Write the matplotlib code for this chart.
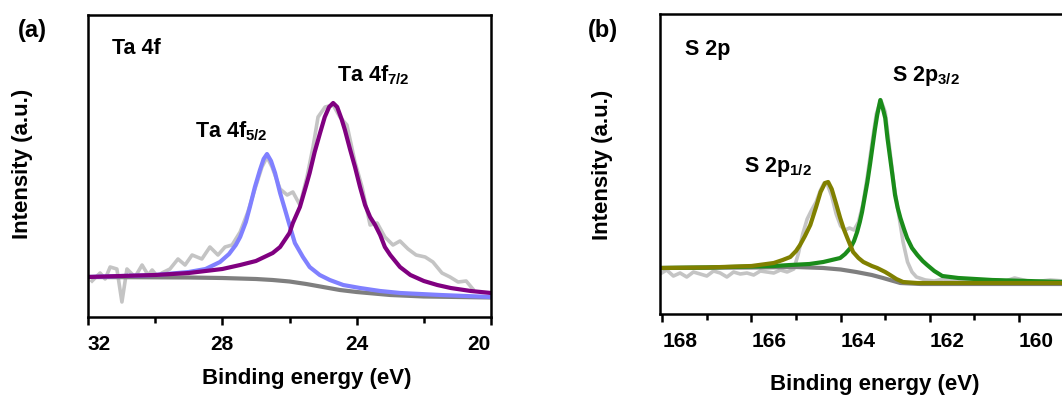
import matplotlib
matplotlib.use('Agg')
import matplotlib.pyplot as plt

plt.rcParams['font.family'] = ['Liberation Sans', 'DejaVu Sans']
plt.rcParams['font.weight'] = 'bold'
plt.rcParams['mathtext.fontset'] = 'custom'
plt.rcParams['mathtext.rm'] = 'Liberation Sans:bold'
plt.rcParams['mathtext.bf'] = 'Liberation Sans:bold'

# ---- (a) Ta 4f ----
ta_raw_e = [31.88, 31.64, 31.49, 31.34, 31.14, 30.99, 30.84, 30.60, 30.39, 30.21,
            30.09, 29.92, 29.80, 29.56, 29.32, 29.11, 28.90, 28.61, 28.37, 28.13,
            27.92, 27.71, 27.47, 27.24, 27.03, 26.82, 26.67, 26.52, 26.28, 26.07,
            25.90, 25.69, 25.48, 25.30, 25.15, 24.94, 24.70, 24.50, 24.29, 24.05,
            23.84, 23.60, 23.39, 23.16, 22.92, 22.71, 22.47, 22.23, 21.96, 21.73,
            21.46, 21.22, 20.98, 20.74, 20.54]
ta_raw_i = [36, 44, 38, 50, 48, 15, 48, 40, 52, 42,
            47, 40, 44, 48, 58, 52, 62, 58, 70, 62,
            70, 72, 85, 105, 128, 150, 160, 150, 128, 122,
            125, 112, 140, 170, 200, 210, 212, 200, 192, 155,
            130, 92, 94, 80, 72, 76, 68, 62, 60, 55,
            44, 40, 35, 36, 28]

ta72_e = [32.0, 30.0, 29.0, 28.0, 27.47, 27.0, 26.5, 26.28, 26.0, 25.9, 25.69,
          25.5, 25.4, 25.25, 25.09, 24.95, 24.82, 24.70, 24.58, 24.45, 24.35,
          24.2, 24.05, 23.9, 23.75, 23.6, 23.45, 23.3, 23.16, 23.0, 22.71,
          22.4, 22.0, 21.6, 21.2, 20.6, 20.0]
ta72_i = [40, 42, 44, 48, 52, 56, 64, 70, 84, 94, 110,
          132, 144, 165, 184, 200, 210, 214, 210, 198, 187,
          168, 150, 130, 112, 100, 92, 82, 70, 62, 50,
          42, 36, 32, 29, 26, 24]

ta52_e = [32.0, 30.0, 29.0, 28.5, 28.07, 27.8, 27.6, 27.47, 27.3, 27.18, 27.03,
          26.88, 26.77, 26.67, 26.55, 26.43, 26.28, 26.13, 26.0, 25.84, 25.6,
          25.4, 25.1, 24.8, 24.4, 23.9, 23.3, 22.7, 21.5, 20.0]
ta52_i = [40, 42, 45, 48, 55, 63, 72, 80, 95, 110, 130,
          147, 158, 163, 156, 144, 124, 107, 92, 74, 60,
          50, 42, 37, 32, 29, 26, 24, 22, 20]

ta_bg_e = [32.0, 29.0, 28.0, 27.0, 26.5, 26.0, 25.5, 25.0, 24.5, 24.0, 23.5,
           23.0, 22.0, 21.0, 20.0]
ta_bg_i = [40, 39.5, 39, 38, 37, 35.5, 33, 30, 27, 25, 23.5,
           22, 20.5, 20, 19.5]

# ---- (b) S 2p ----
s_raw_e = [168.05, 167.9, 167.75, 167.6, 167.45, 167.3, 167.15, 167.0, 166.85, 166.7,
           166.55, 166.4, 166.25, 166.1, 165.95, 165.8, 165.65, 165.5, 165.35, 165.2,
           165.05, 164.95, 164.85, 164.75, 164.65, 164.55, 164.45, 164.37, 164.3, 164.2,
           164.1, 164.0, 163.9, 163.8, 163.7, 163.6, 163.5, 163.4, 163.3, 163.2,
           163.1, 163.0, 162.9, 162.8, 162.7, 162.6, 162.5, 162.4, 162.3, 162.1,
           161.9, 161.7, 161.5, 161.3, 161.1, 160.9, 160.7, 160.5, 160.3, 160.1,
           159.9, 159.7, 159.5, 159.3, 159.0]
s_raw_i = [40, 44, 38, 41, 37, 42, 40, 38, 43, 41,
           37, 42, 40, 41, 39, 43, 42, 41, 44, 42,
           45, 60, 80, 95, 104, 112, 124, 131, 130, 118,
           100, 88, 84, 86, 84, 92, 110, 138, 170, 200,
           214, 202, 165, 128, 100, 72, 52, 42, 37, 34,
           33, 35, 33, 34, 32, 33, 32, 34, 33, 36,
           34, 32, 33, 34, 33]

s32_e = [168.05, 167.0, 166.0, 165.5, 165.13, 164.7, 164.39, 164.2, 164.01, 163.9,
         163.78, 163.7, 163.63, 163.57, 163.52, 163.46, 163.4, 163.34, 163.29, 163.23,
         163.18, 163.11, 163.05, 163.0, 162.95, 162.89, 162.83, 162.78, 162.72, 162.66,
         162.58, 162.51, 162.4, 162.28, 162.16, 162.06, 161.9, 161.72, 161.36, 160.6,
         159.0]
s32_i = [46, 46.5, 47.5, 48, 49, 50, 52, 54, 56, 60,
         66, 73, 82, 92, 102, 117, 132, 150, 166, 185,
         199, 214, 205, 196, 176, 156, 136, 119, 106, 96,
         85, 76, 66, 59, 53, 49, 43, 38, 36, 34,
         32]

s12_e = [168.05, 167.0, 166.0, 165.5, 165.3, 165.13, 165.0, 164.91, 164.8, 164.68,
         164.55, 164.45, 164.35, 164.28, 164.2, 164.1, 164.01, 163.93, 163.85, 163.72,
         163.6, 163.49, 163.3, 163.18, 163.0, 162.89, 162.75, 162.6, 162.28, 161.0,
         159.0]
s12_i = [46, 46.5, 48, 51, 54, 57, 63, 69, 78, 89,
         107, 122, 131, 132, 125, 110, 96, 85, 76, 62,
         56, 52, 48, 46, 42, 39, 35, 32, 31, 31,
         31]

s_bg_e = [168.05, 166.0, 165.0, 164.39, 164.0, 163.65, 163.3, 163.05, 162.66, 162.2,
          161.0, 159.0]
s_bg_i = [46, 46.5, 47, 46, 44.5, 42, 39, 36, 31, 30,
          30, 30]

raw_c = '#c4c4c4'
bg_c = '#7f7f7f'
lw = 3.0

fig = plt.figure(figsize=(10.62, 3.96), dpi=100)
ax1 = fig.add_axes([88/1062, 1-317/396, 403/1062, 302/396])
ax2 = fig.add_axes([660/1062, 1-314/396, 446/1062, 300/396])

ax1.plot(ta_raw_e, ta_raw_i, color=raw_c, lw=2.6)
ax1.plot(ta_bg_e, ta_bg_i, color=bg_c, lw=lw)
ax1.plot(ta52_e, ta52_i, color='#8080ff', lw=lw)
ax1.plot(ta72_e, ta72_i, color='#800080', lw=lw)
ax1.set_xlim(32, 20)
ax1.set_ylim(0, 302)
ax1.set_xticks([32, 28, 24, 20])
ax1.set_xticks([30, 26, 22], minor=True)

ax2.plot(s_raw_e, s_raw_i, color=raw_c, lw=2.6)
ax2.plot(s_bg_e, s_bg_i, color=bg_c, lw=lw)
ax2.plot(s32_e, s32_i, color='#1a8c1a', lw=lw)
ax2.plot(s12_e, s12_i, color='#808000', lw=lw)
ax2.set_xlim(168.05, 158.05)
ax2.set_ylim(0, 300)
ax2.set_xticks([168, 166, 164, 162, 160])
ax2.set_xticks([167, 165, 163, 161, 159], minor=True)

for ax in (ax1, ax2):
    for s in ax.spines.values():
        s.set_linewidth(1.8)
    ax.set_yticks([])
    ax.tick_params(axis='x', which='major', direction='out', length=6, width=1.8,
                   labelsize=15, pad=7)
    ax.tick_params(axis='x', which='minor', direction='out', length=4, width=1.8)
    ax.set_xlabel('Binding energy (eV)', fontsize=16, fontweight='bold')
    ax.set_ylabel('Intensity (a.u.)', fontsize=16, fontweight='bold')
    for t in ax.get_xticklabels():
        t.set_fontweight('bold')

labs = ax1.get_xticklabels()
labs[0].set_horizontalalignment('left')
labs[-1].set_horizontalalignment('right')
for t in ax2.get_xticklabels():
    t.set_horizontalalignment('left')

ax1.xaxis.set_label_coords(0.543, -0.17)
ax1.yaxis.set_label_coords(-0.136, 0.507)
ax2.xaxis.set_label_coords(0.482, -0.20)
ax2.yaxis.set_label_coords(-0.105, 0.497)

fig.text(18/1062, 1-31/396, '(a)', fontsize=17, fontweight='bold', va='center')
fig.text(588/1062, 1-30/396, '(b)', fontsize=17, fontweight='bold', va='center')

fig.text(112/1062, 1-49/396, 'Ta 4f', fontsize=15.5, fontweight='bold', va='center')
fig.text(337/1062, 1-81/396, r'Ta 4f$_{\mathbf{7/2}}$', fontsize=15.5, va='baseline')
fig.text(195/1062, 1-137/396, r'Ta 4f$_{\mathbf{5/2}}$', fontsize=15.5, va='baseline')

fig.text(685/1062, 1-50/396, 'S 2p', fontsize=15.5, fontweight='bold', va='center')
fig.text(892/1062, 1-81/396, r'S 2p$_{\mathbf{3/2}}$', fontsize=15.5, va='baseline')
fig.text(744/1062, 1-172/396, r'S 2p$_{\mathbf{1/2}}$', fontsize=15.5, va='baseline')

fig.savefig('out.png', dpi=100)
